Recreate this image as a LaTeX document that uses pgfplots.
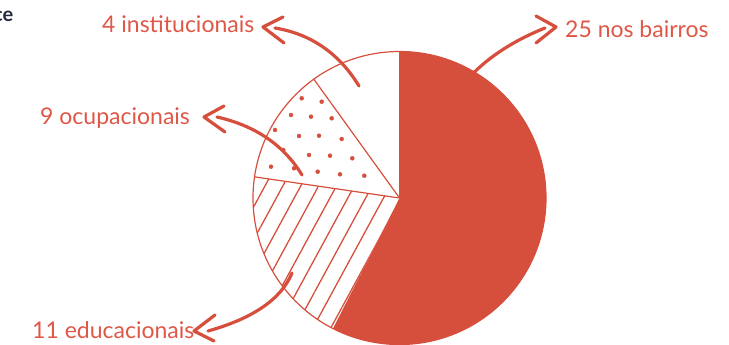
\documentclass[border=0pt]{standalone}
\usepackage{pgfplots}
\pgfplotsset{compat=1.18}
\usepackage{pgfplotstable}
\usetikzlibrary{patterns.meta}
\usepackage{fontspec}
\setmainfont{Lato}
\definecolor{pred}{HTML}{D64F3D}
\definecolor{ptext}{HTML}{DE5747}
\definecolor{navy}{HTML}{262A3E}
\tikzset{arr/.style={pred, line width=3.2bp, line cap=round, line join=round}}

% slices: value, and the angles (degrees, counter-clockwise from east)
\pgfplotstableread{
label value start end
bairros 25 -117 90
educacionais 11 171.7 243
ocupacionais 9 125.8 171.7
institucionais 4 90 125.8
}\piedata

% dots of the dotted slice (pixel coordinates)
\pgfplotstableread{
x y
301.7 98.3
321.7 101.7
291 115
311 116.7
331.7 118.3
275 130
299 136
319 135.7
341.7 139
283.3 150
309 155
330 155.7
352.3 158.3
271 166.7
294 168.3
317.7 171.7
340 174.3
364.3 175.7
}\dotsdata

\begin{document}
\begin{tikzpicture}
\pgfplotstablegetelem{0}{start}\of\piedata\let\aS\pgfplotsretval
\pgfplotstablegetelem{0}{end}\of\piedata\let\aE\pgfplotsretval
\pgfplotstablegetelem{1}{start}\of\piedata\let\bS\pgfplotsretval
\pgfplotstablegetelem{1}{end}\of\piedata\let\bE\pgfplotsretval
\pgfplotstablegetelem{2}{start}\of\piedata\let\cS\pgfplotsretval
\pgfplotstablegetelem{2}{end}\of\piedata\let\cE\pgfplotsretval
\pgfplotstablegetelem{3}{start}\of\piedata\let\dS\pgfplotsretval
\pgfplotstablegetelem{3}{end}\of\piedata\let\dE\pgfplotsretval
\def\R{146.5bp}
\begin{axis}[name=ax, width=729bp, height=345bp, scale only axis,
  xmin=0, xmax=729, ymin=0, ymax=345, y dir=reverse, hide axis, clip=true]
  \path (axis cs:0,0) rectangle (axis cs:729,345);
  % hatched slice
  \fill[pattern={Lines[angle=61.5, distance=15.7bp, line width=1.3bp]}, pattern color=pred]
    (axis cs:399.5,198) -- ++(\bS:\R) arc[start angle=\bS, end angle=\bE, radius=\R] -- cycle;
  % red slice
  \fill[pred] (axis cs:399.5,198) -- ++(\aS:\R) arc[start angle=\aS, end angle=\aE, radius=\R] -- cycle;
  % dotted slice
  \addplot[only marks, mark=*, mark size=2pt, color=pred] table[x=x, y=y] {\dotsdata};
  % edges
  \draw[pred, line width=1.2bp] (axis cs:399.5,198) -- ++(\bS:\R);
  \draw[pred, line width=1.2bp] (axis cs:399.5,198) -- ++(\cS:\R);
  \draw[pred, line width=1.2bp] (axis cs:399.5,198) -- ++(\dS:\R);
  \draw[pred, line width=1.2bp] (axis cs:399.5,198) circle[radius=\R];
  % arrows
  \draw[arr] (axis cs:460,88) .. controls (axis cs:480,62.7) and (axis cs:508.3,42.7) .. (axis cs:545,28);
  \draw[arr] (axis cs:536,16) -- (axis cs:556,27) -- (axis cs:536,43);
  \draw[arr] (axis cs:359,86) .. controls (axis cs:339,53.3) and (axis cs:311,34) .. (axis cs:275,28);
  \draw[arr] (axis cs:283,17) -- (axis cs:263,27) -- (axis cs:284,43);
  \draw[arr] (axis cs:302,175) .. controls (axis cs:283.7,145) and (axis cs:255.3,125.7) .. (axis cs:217,117);
  \draw[arr] (axis cs:224,106) -- (axis cs:204,117) -- (axis cs:225,132);
  \draw[arr] (axis cs:292,273) .. controls (axis cs:281.3,299) and (axis cs:253.3,318.3) .. (axis cs:208,331);
  \draw[arr] (axis cs:215,315) -- (axis cs:194,331) -- (axis cs:214,341);
  % labels
  \begin{scope}[every node/.style={inner sep=0pt, text=ptext, font=\fontsize{23bp}{27bp}\selectfont}]
  \node[anchor=base west] at (axis cs:102,32) {4 institucionais};
  \node[anchor=base west] at (axis cs:40,124) {9 ocupacionais};
  \node[anchor=base west] at (axis cs:32,338) {11 educacionais};
  \node[anchor=base west] at (axis cs:565,37) {25 nos bairros};
  \end{scope}
  \node[anchor=base east, inner sep=0pt, text=navy, font=\fontsize{20bp}{24bp}\selectfont\bfseries] at (axis cs:13.5,22) {ce};
\end{axis}
\pgfresetboundingbox
\useasboundingbox (ax.south west) rectangle (ax.north east);
\end{tikzpicture}
\end{document}
